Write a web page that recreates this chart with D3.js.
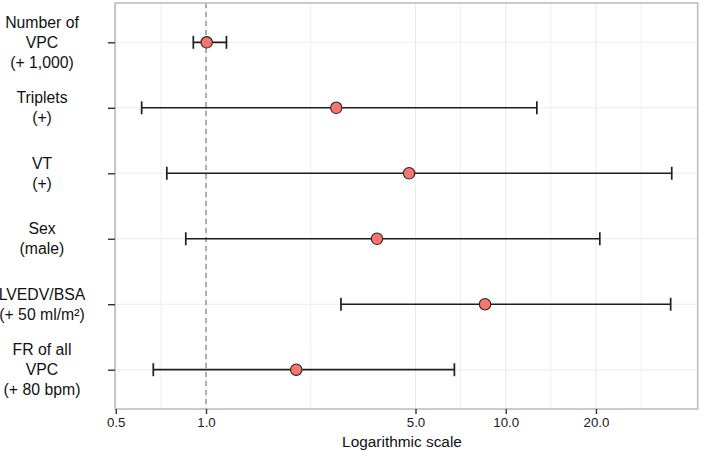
<!DOCTYPE html>
<html><head><meta charset="utf-8">
<script src="https://cdn.jsdelivr.net/npm/d3@7"></script>
<style>
html,body{margin:0;padding:0;background:#fff;}
svg{display:block;font-family:"Liberation Sans",Arial,Helvetica,sans-serif;}
</style></head>
<body>
<svg id="chart" width="709" height="452"></svg>
<script>
// ---- data ----
const categories = ["Number of VPC", "Triplets", "VT", "Sex", "LVEDV/BSA", "FR of all VPC"];
const categoryLabels = [
  ["Number of", "VPC", "(+ 1,000)"],
  ["Triplets", "(+)"],
  ["VT", "(+)"],
  ["Sex", "(male)"],
  ["LVEDV/BSA", "(+ 50 ml/m²)"],
  ["FR of all", "VPC", "(+ 80 bpm)"]
];
const estimate = [1.005, 2.72, 4.76, 3.72, 8.53, 2.0];
const lower    = [0.907, 0.61, 0.74, 0.856, 2.82, 0.667];
const upper    = [1.17, 12.7, 35.8, 20.6, 35.5, 6.74];
const xTicks = [0.5, 1, 5, 10, 20];
const xTickLabels = ["0.5", "1.0", "5.0", "10.0", "20.0"];
const xMinor = [0.7071, 2.236, 7.071, 14.14, 28.28];
const refValue = 1;
const xTitle = "Logarithmic scale";

// ---- layout ----
const svg = d3.select("#chart");
const P = {left: 115, right: 697.7, top: 3, bottom: 409};

const x = d3.scaleLog().domain([0.497, 43.7]).range([P.left, P.right]);
const y = d3.scalePoint().domain(categories).range([P.top, P.bottom]).padding(0.6);

const g = svg.append("g");

// gridlines
g.selectAll(".minor").data(xMinor).join("line")
  .attr("x1", d => x(d)).attr("x2", d => x(d))
  .attr("y1", P.top).attr("y2", P.bottom)
  .attr("stroke", "#f0f0f0").attr("stroke-width", 1);
g.selectAll(".major").data(xTicks).join("line")
  .attr("x1", d => x(d)).attr("x2", d => x(d))
  .attr("y1", P.top).attr("y2", P.bottom)
  .attr("stroke", "#e9e9e9").attr("stroke-width", 1.1);
g.selectAll(".hgrid").data(categories).join("line")
  .attr("x1", P.left).attr("x2", P.right)
  .attr("y1", d => y(d)).attr("y2", d => y(d))
  .attr("stroke", "#ececec").attr("stroke-width", 1.1);

// reference line
g.append("line")
  .attr("x1", x(refValue)).attr("x2", x(refValue))
  .attr("y1", P.top).attr("y2", P.bottom)
  .attr("stroke", "#8a8a8a").attr("stroke-width", 1.3)
  .attr("stroke-dasharray", "5,4");

// border
g.append("rect")
  .attr("x", P.left).attr("y", P.top)
  .attr("width", P.right - P.left).attr("height", P.bottom - P.top)
  .attr("fill", "none").attr("stroke", "#bdbdbd").attr("stroke-width", 1.6);

// error bars
const rows = categories.map((c, i) => ({c, est: estimate[i], lo: lower[i], hi: upper[i]}));
const eb = g.selectAll(".eb").data(rows).join("g");
eb.append("line")
  .attr("x1", d => x(d.lo)).attr("x2", d => x(d.hi))
  .attr("y1", d => y(d.c)).attr("y2", d => y(d.c))
  .attr("stroke", "#1e1e1e").attr("stroke-width", 1.7);
eb.append("line")
  .attr("x1", d => x(d.lo)).attr("x2", d => x(d.lo))
  .attr("y1", d => y(d.c) - 6.5).attr("y2", d => y(d.c) + 6.5)
  .attr("stroke", "#1e1e1e").attr("stroke-width", 1.7);
eb.append("line")
  .attr("x1", d => x(d.hi)).attr("x2", d => x(d.hi))
  .attr("y1", d => y(d.c) - 6.5).attr("y2", d => y(d.c) + 6.5)
  .attr("stroke", "#1e1e1e").attr("stroke-width", 1.7);
eb.append("circle")
  .attr("cx", d => x(d.est)).attr("cy", d => y(d.c)).attr("r", 5.7)
  .attr("fill", "#F8766D").attr("stroke", "#2a2a2a").attr("stroke-width", 1.1);

// x axis
const xAxis = d3.axisBottom(x).tickValues(xTicks)
  .tickFormat((d, i) => xTickLabels[i]).tickSize(5).tickPadding(4);
const xa = svg.append("g").attr("transform", `translate(0,${P.bottom})`).call(xAxis);
xa.select(".domain").remove();
xa.selectAll(".tick line").attr("stroke", "#333").attr("stroke-width", 1.4);
xa.selectAll(".tick text").attr("fill", "#1a1a1a").attr("font-size", 13.3)
  .attr("font-family", "Liberation Sans, Arial, sans-serif");

svg.append("text")
  .attr("x", 402).attr("y", 447)
  .attr("text-anchor", "middle").attr("font-size", 15.4).attr("fill", "#111")
  .text(xTitle);

// y axis ticks
const yAxis = d3.axisLeft(y).tickSize(7).tickFormat("");
const ya = svg.append("g").attr("transform", `translate(${P.left},0)`).call(yAxis);
ya.select(".domain").remove();
ya.selectAll(".tick line").attr("stroke", "#333").attr("stroke-width", 1.4);

// y labels (multi-line, centred)
const lh = 20;
const yl = svg.append("g");
categories.forEach((c, i) => {
  const lines = categoryLabels[i];
  const n = lines.length;
  const t = yl.append("text")
    .attr("x", 42).attr("text-anchor", "middle")
    .attr("font-size", 15.8).attr("fill", "#111");
  lines.forEach((ln, j) => {
    t.append("tspan").attr("x", 42)
      .attr("y", y(c) + (j - (n - 1) / 2) * lh + 5.6)
      .text(ln);
  });
});
</script>
</body></html>
